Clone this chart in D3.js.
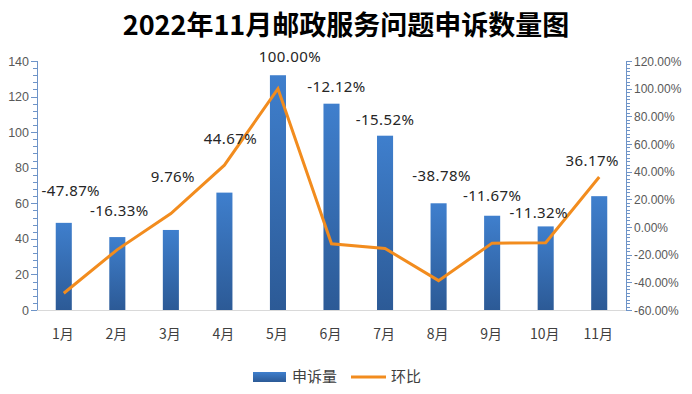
<!DOCTYPE html>
<html><head><meta charset="utf-8">
<script src="https://cdn.jsdelivr.net/npm/d3@7"></script>
<style>
body{margin:0;background:#fff;}
svg{display:block;}
</style></head>
<body>
<svg id="chart" width="692" height="394"></svg>
<script>
const title = "2022年11月邮政服务问题申诉数量图";
const months = ["1月","2月","3月","4月","5月","6月","7月","8月","9月","10月","11月"];
const complaints = [49, 41, 45, 66, 132, 116, 98, 60, 53, 47, 64];
const ratio = [-47.87, -16.33, 9.76, 44.67, 100.00, -12.12, -15.52, -38.78, -11.67, -11.32, 36.17];
const leftTicks = [0,20,40,60,80,100,120,140];
const rightTicks = [-60,-40,-20,0,20,40,60,80,100,120];
const seriesNames = ["申诉量","环比"];
// label nudges (px) relative to the category centre / the higher of bar top and line point
const labelDx = [7, 2, 2, 6, 12, 5, 0, 3, 0, -7, -7];
const labelDy = [-27, -21, -31, -21, -13, -12, -11, -22, -15, -8, -11];

const svg = d3.select("#chart");
const L = 37, R = 626, T = 61, B = 310;
const x = d3.scaleBand().domain(months).range([L, R]).paddingInner(0.7).paddingOuter(0.35);
const xc = d => x(d) + x.bandwidth()/2;
const y = d3.scaleLinear().domain([0,140]).range([B,T]);
const y2 = d3.scaleLinear().domain([-60,120]).range([B,T]);

const defs = svg.append("defs");
const g = defs.append("linearGradient").attr("id","barg").attr("x1",0).attr("y1",0).attr("x2",0).attr("y2",1);
g.append("stop").attr("offset","0%").attr("stop-color","#3f7fcd");
g.append("stop").attr("offset","100%").attr("stop-color","#2c5a96");
const gl = defs.append("linearGradient").attr("id","legg").attr("x1",0).attr("y1",0).attr("x2",0).attr("y2",1);
gl.append("stop").attr("offset","0%").attr("stop-color","#3f7fcd");
gl.append("stop").attr("offset","100%").attr("stop-color","#2c5a96");

// title
svg.append("text").attr("x",346).attr("y",35).attr("text-anchor","middle")
  .attr("font-family","'Noto Sans CJK SC', sans-serif").attr("font-weight","bold")
  .attr("font-size",27).attr("fill","#000").text(title);

// bars
svg.append("g").selectAll("rect").data(complaints).join("rect")
  .attr("x",(d,i)=>x(months[i])).attr("width",x.bandwidth())
  .attr("y",d=>y(d)).attr("height",d=>B-y(d)).attr("fill","url(#barg)");

// bottom axis line
svg.append("line").attr("x1",L).attr("x2",R).attr("y1",B+0.5).attr("y2",B+0.5)
  .attr("stroke","#d9d9d9").attr("stroke-width",1);

// left axis
const axisColor = "#6e94c8";
const lg = svg.append("g");
lg.append("line").attr("x1",L+0.5).attr("x2",L+0.5).attr("y1",T).attr("y2",B).attr("stroke",axisColor);
const minorL = d3.range(0,141,4);
lg.selectAll(".mn").data(minorL).join("line")
  .attr("x1",L-4).attr("x2",L).attr("y1",d=>Math.round(y(d))+0.5).attr("y2",d=>Math.round(y(d))+0.5).attr("stroke",axisColor);
lg.selectAll(".mj").data(leftTicks).join("line")
  .attr("x1",L-6).attr("x2",L).attr("y1",d=>Math.round(y(d))+0.5).attr("y2",d=>Math.round(y(d))+0.5).attr("stroke",axisColor);
lg.selectAll("text").data(leftTicks).join("text")
  .attr("x",29).attr("y",d=>y(d)+4.5).attr("text-anchor","end")
  .attr("font-family","'Liberation Sans', Arial, sans-serif").attr("font-size",12.5).attr("fill","#595959")
  .text(d=>d);

// right axis
const rg = svg.append("g");
rg.append("line").attr("x1",R+0.5).attr("x2",R+0.5).attr("y1",T).attr("y2",B).attr("stroke",axisColor);
const minorR = d3.range(-60,120.1,2.5);
rg.selectAll(".mn").data(minorR).join("line")
  .attr("x1",R).attr("x2",R+4).attr("y1",d=>Math.round(y2(d))+0.5).attr("y2",d=>Math.round(y2(d))+0.5).attr("stroke",axisColor);
rg.selectAll(".mj").data(rightTicks).join("line")
  .attr("x1",R).attr("x2",R+6).attr("y1",d=>Math.round(y2(d))+0.5).attr("y2",d=>Math.round(y2(d))+0.5).attr("stroke",axisColor);
rg.selectAll("text").data(rightTicks).join("text")
  .attr("x",R+8).attr("y",d=>y2(d)+4.5).attr("text-anchor","start")
  .attr("font-family","'Liberation Sans', Arial, sans-serif").attr("font-size",12).attr("fill","#595959")
  .text(d=>d.toFixed(2)+"%");

// x labels
svg.append("g").selectAll("text").data(months).join("text")
  .attr("x",d=>xc(d)-1).attr("y",339).attr("text-anchor","middle")
  .attr("font-family","'Noto Sans CJK SC', sans-serif").attr("font-size",14).attr("fill","#404040")
  .text(d=>d);

// line
const line = d3.line().x((d,i)=>xc(months[i])).y(d=>y2(d));
svg.append("path").datum(ratio).attr("d",line).attr("fill","none")
  .attr("stroke","#f28c1e").attr("stroke-width",3).attr("stroke-linejoin","miter");

// data labels
svg.append("g").selectAll("text").data(ratio).join("text")
  .attr("x",(d,i)=>xc(months[i])+labelDx[i])
  .attr("y",(d,i)=>Math.min(y(complaints[i]), y2(d))+labelDy[i])
  .attr("text-anchor","middle")
  .attr("font-family","'Noto Sans', sans-serif").attr("font-size",15).attr("letter-spacing",0.4)
  .attr("fill","#262626")
  .text(d=>d.toFixed(2)+"%");

// legend
const leg = svg.append("g");
leg.append("rect").attr("x",253).attr("y",372).attr("width",33).attr("height",10).attr("fill","url(#legg)");
leg.append("text").attr("x",292).attr("y",382).attr("font-family","'Noto Sans CJK SC', sans-serif")
  .attr("font-size",15).attr("fill","#404040").text(seriesNames[0]);
leg.append("line").attr("x1",351).attr("x2",386).attr("y1",377).attr("y2",377).attr("stroke","#f28c1e").attr("stroke-width",3);
leg.append("text").attr("x",391).attr("y",382).attr("font-family","'Noto Sans CJK SC', sans-serif")
  .attr("font-size",15).attr("fill","#404040").text(seriesNames[1]);
</script>
</body></html>
